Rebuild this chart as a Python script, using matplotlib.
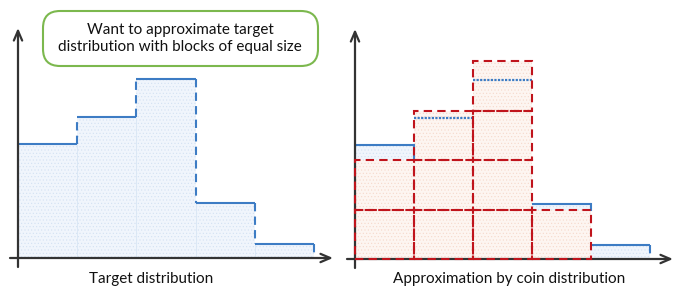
import matplotlib
matplotlib.use("Agg")
import matplotlib.pyplot as plt
from matplotlib.patches import FancyBboxPatch, Rectangle

# ---- data ----
bins = [0, 1, 2, 3, 4]
target = [2.31, 2.84, 3.62, 1.12, 0.28]
coins = [2, 3, 4, 1, 0]
left_label = "Target distribution"
right_label = "Approximation by coin distribution"
callout = "Want to approximate target\ndistribution with blocks of equal size"

BLUE = "#3d7cc4"
RED = "#c0141c"
AXC = "#333333"
plt.rcParams['font.family'] = ['Lato', 'DejaVu Sans']
plt.rcParams['hatch.linewidth'] = 0.4

W, H = 681, 294
fig = plt.figure(figsize=(W / 100, H / 100), dpi=100)

XU, YU = 59.2, 49.5  # px per data unit


def make_ax(x0px, wpx, yaxis_px, base_px, xu):
    ax = fig.add_axes([x0px / W, 0, wpx / W, 1])
    ax.set_xlim(-yaxis_px / xu, (wpx - yaxis_px) / xu)
    ax.set_ylim(-base_px / YU, (H - base_px) / YU)
    ax.axis('off')
    return ax


def axes_arrows(ax, xu, xend, ytop):
    ap = dict(arrowstyle='->,head_length=0.7,head_width=0.3', lw=1.6, color=AXC,
              shrinkA=0, shrinkB=0)
    ax.annotate('', xy=(0, ytop), xytext=(0, -9 / YU), arrowprops=ap)
    ax.annotate('', xy=(xend, 0), xytext=(-8 / xu, 0), arrowprops=ap)


# ---------- left panel ----------
axL = make_ax(0, 340, 18, 36, XU)
axL.bar(bins, target, width=1, align='edge', color='#f0f5fc',
        edgecolor='#d3e1f2', hatch='.....', linewidth=0, zorder=1)
for i, (b, t) in enumerate(zip(bins, target)):
    axL.plot([b, b + 1], [t, t], color=BLUE, lw=1.5, zorder=3, solid_capstyle='butt')
    nxt = target[i + 1] if i + 1 < len(target) else 0
    axL.plot([b + 1, b + 1], [t, nxt], color=BLUE, lw=1.5, ls=(0, (4, 2.5)), zorder=3)
    if i > 0:
        axL.plot([b, b], [0, min(t, target[i - 1])], color='#d9e6f4', lw=0.6, zorder=2)
axes_arrows(axL, XU, (333 - 18) / XU, (258 - 28) / YU)
axL.text(2.25, -21 / YU, left_label, ha='center', va='center', fontsize=11, color='#111111')

# callout box (figure pixel coords)
box = FancyBboxPatch((43 / W, 1 - 66 / H), (318 - 43) / W, (66 - 11) / H,
                     boxstyle="round,pad=0,rounding_size=0.025", transform=fig.transFigure,
                     facecolor='white', edgecolor='#7cb84e', lw=1.5, zorder=5,
                     mutation_aspect=W / H)
fig.patches.append(box)
fig.text(180 / W, 1 - 38.5 / H, callout, ha='center', va='center', fontsize=11,
         color='#111111', linespacing=1.25, zorder=6)

# ---------- right panel ----------
XU2 = 59.0
axR = make_ax(340, 341, 15, 35, XU2)
# blue remainders above coins
for b, t, c in zip(bins, target, coins):
    if t > c:
        axR.bar(b, t - c, bottom=c, width=1, align='edge', color='#f0f5fc',
                edgecolor='#d3e1f2', hatch='.....', linewidth=0, zorder=1)
# coin fills
axR.bar(bins, coins, width=1, align='edge', color='#fdf5f1',
        edgecolor='#f5d8cb', hatch='.....', linewidth=0, zorder=1)
# blue target lines
for i, (b, t, c) in enumerate(zip(bins, target, coins)):
    if t > c:
        axR.plot([b, b + 1], [t, t], color=BLUE, lw=1.5, zorder=3, solid_capstyle='butt')
        if i == len(bins) - 1:
            axR.plot([b + 1, b + 1], [t, 0], color=BLUE, lw=1.5, ls=(0, (4, 2.5)), zorder=3)
        else:
            axR.plot([b + 1, b + 1], [t, c], color=BLUE, lw=1.5, zorder=3)
    else:
        axR.plot([b, b + 1], [t, t], color=BLUE, lw=1.6, ls=(0, (1, 0.6)), zorder=3)
# red dashed blocks
for b, c in zip(bins, coins):
    for k in range(c):
        axR.add_patch(Rectangle((b, k), 1, 1, fill=False, edgecolor=RED, lw=1.5,
                                ls=(0, (4, 2.5)), zorder=4))
axes_arrows(axR, XU2, (673 - 355) / XU2, (259 - 29) / YU)
axR.text((509 - 355) / XU2, -20 / YU, right_label, ha='center', va='center',
         fontsize=11, color='#111111')

fig.savefig("out.png", dpi=100)
